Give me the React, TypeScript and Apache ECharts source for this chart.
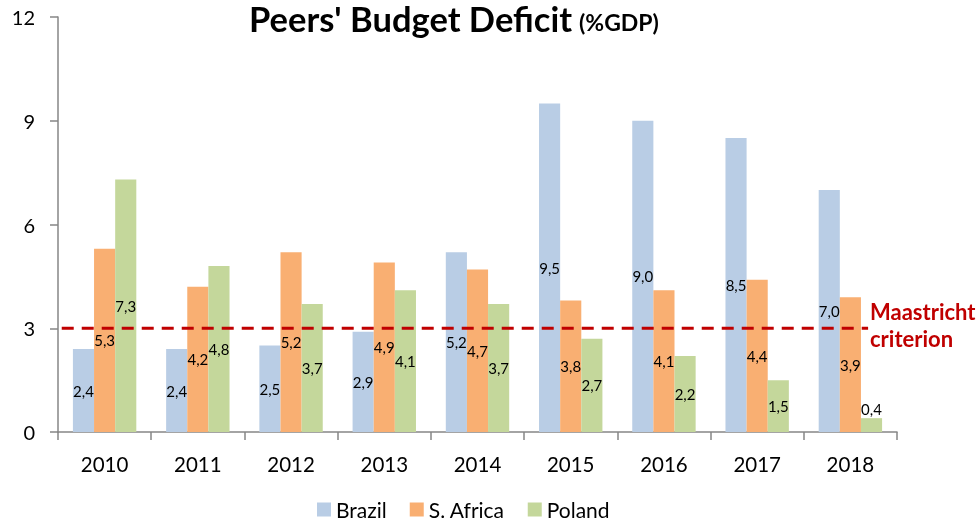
import React, { useEffect, useRef } from "react";
import * as echarts from "echarts";

const years = ["2010", "2011", "2012", "2013", "2014", "2015", "2016", "2017", "2018"];
const brazil = [2.4, 2.4, 2.5, 2.9, 5.2, 9.5, 9.0, 8.5, 7.0];
const southAfrica = [5.3, 4.2, 5.2, 4.9, 4.7, 3.8, 4.1, 4.4, 3.9];
const poland = [7.3, 4.8, 3.7, 4.1, 3.7, 2.7, 2.2, 1.5, 0.4];
const seriesNames = ["Brazil", "S. Africa", "Poland"];
const colors = ["#B9CDE5", "#F9AF72", "#C4D79B"];
const maastricht = 3;
const yTicks = { min: 0, max: 12, interval: 3 };

const FONT = "Lato, 'Open Sans', sans-serif";

const fmt = (v: number) => v.toFixed(1).replace(".", ",");

function makeData(vals: number[]) {
  return vals.map((v) =>
    v < 1
      ? { value: v, label: { position: "top", distance: 2 } }
      : { value: v }
  );
}

export default function App() {
  const ref = useRef<HTMLDivElement>(null);
  useEffect(() => {
    if (!ref.current) return;
    const chart = echarts.init(ref.current, undefined, { renderer: "svg" });
    const barSeries = [brazil, southAfrica, poland].map((vals, i) => ({
      name: seriesNames[i],
      type: "bar",
      data: makeData(vals),
      barGap: "0%",
      barCategoryGap: "32%",
      itemStyle: { color: colors[i] },
      label: {
        show: true,
        position: "inside",
        color: "#000",
        fontFamily: FONT,
        fontSize: 15,
        formatter: (p: any) => fmt(p.value),
      },
      xAxisIndex: 0,
    }));
    chart.setOption({
      animation: false,
      legend: {
        data: seriesNames,
        left: 312,
        top: 494,
        icon: "rect",
        itemWidth: 14,
        itemHeight: 14,
        itemGap: 23,
        textStyle: { fontFamily: FONT, fontSize: 21, color: "#000" },
      },
      grid: { left: 58, right: 83, top: 17, bottom: 91, containLabel: false },
      xAxis: [
        {
          type: "category",
          data: years,
          axisLine: { lineStyle: { color: "#868686", width: 1.5 } },
          axisTick: { show: true, length: 8, lineStyle: { color: "#868686", width: 1.5 } },
          axisLabel: { color: "#000", fontFamily: FONT, fontSize: 20.5, margin: 21 },
        },
        {
          type: "value",
          min: 0,
          max: 9,
          show: false,
        },
      ],
      yAxis: {
        type: "value",
        min: yTicks.min,
        max: yTicks.max,
        interval: yTicks.interval,
        splitLine: { show: false },
        axisLine: { show: true, lineStyle: { color: "#868686", width: 1.5 } },
        axisTick: { show: true, length: 8, lineStyle: { color: "#868686", width: 1.5 } },
        axisLabel: { color: "#000", fontFamily: FONT, fontSize: 20, margin: 23 },
      },
      series: [
        ...barSeries,
        {
          name: "Maastricht",
          type: "line",
          xAxisIndex: 1,
          data: [
            [0.04, maastricht],
            [8.69, maastricht],
          ],
          symbol: "none",
          lineStyle: { color: "#C00000", width: 3, type: [12, 8] },
          z: 5,
          silent: true,
        },
      ],
      graphic: [
        {
          type: "text",
          x: 249,
          y: 18,
          style: {
            text: "Peers' Budget Deficit",
            fill: "#000",
            fontFamily: FONT,
            fontWeight: "bold",
            fontSize: 34.5,
            lineHeight: 34,
            verticalAlign: "middle",
          },
        },
        {
          type: "text",
          x: 579,
          y: 22,
          style: {
            text: "(%GDP)",
            fill: "#000",
            fontFamily: FONT,
            fontWeight: "bold",
            fontSize: 23,
            verticalAlign: "middle",
          },
        },
        {
          type: "text",
          x: 870,
          y: 298,
          style: {
            text: "Maastricht\ncriterion",
            fill: "#C00000",
            fontFamily: FONT,
            fontWeight: "bold",
            fontSize: 22,
            lineHeight: 27,
          },
        },
      ],
    });
    return () => chart.dispose();
  }, []);
  return (
    <div
      ref={ref}
      style={{ position: "fixed", left: 0, top: 0, width: 980, height: 523 }}
    />
  );
}
